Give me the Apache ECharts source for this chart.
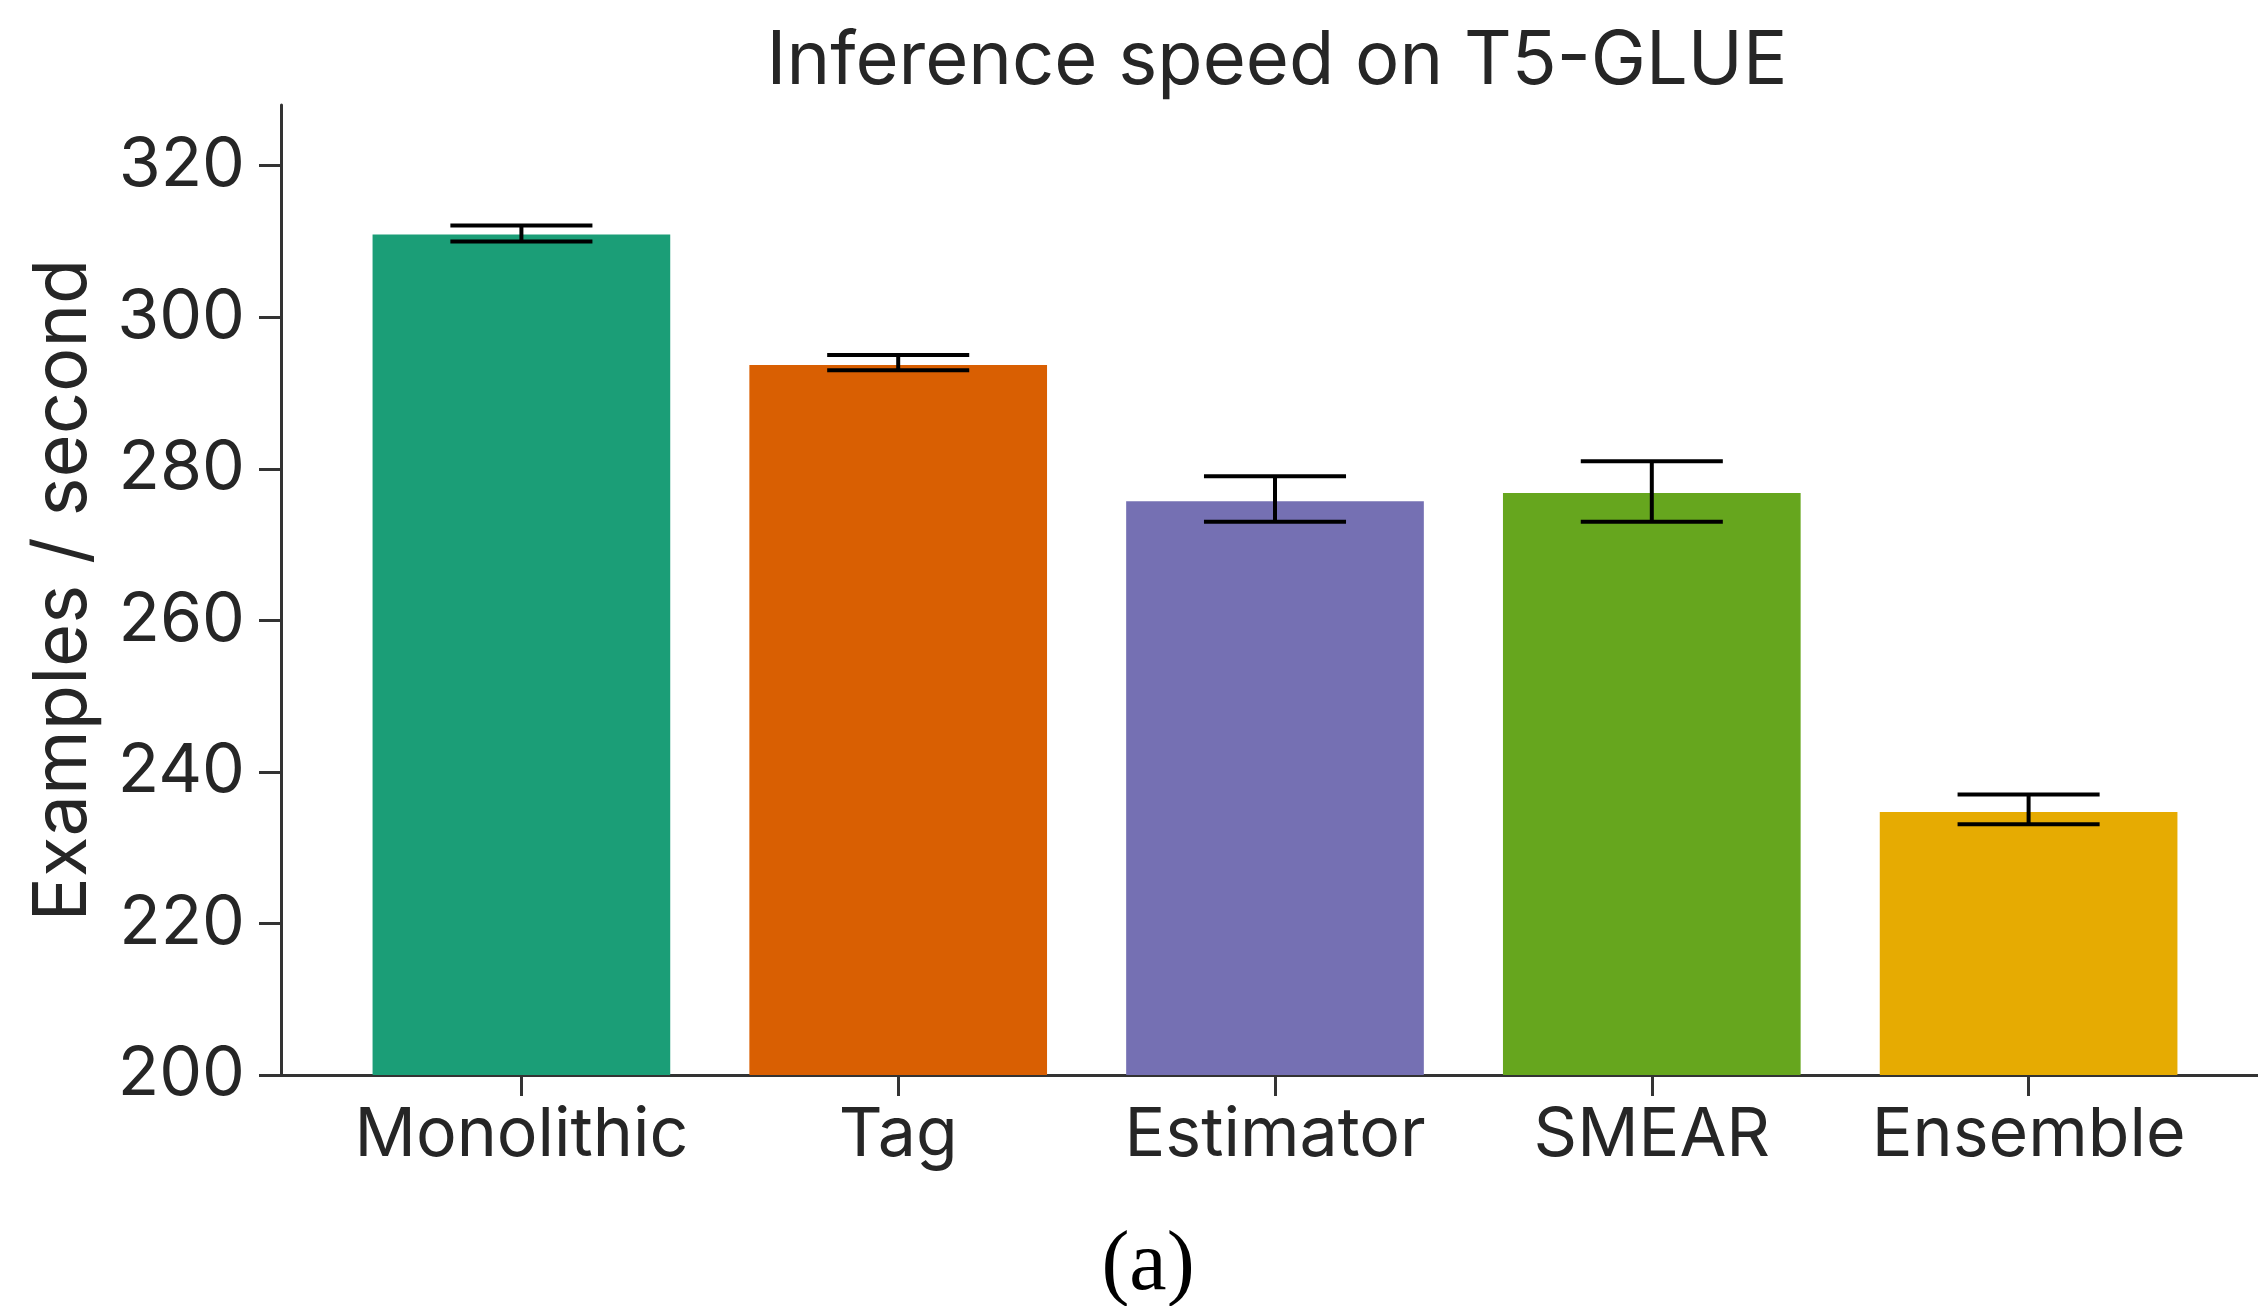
<!DOCTYPE html>
<html>
<head>
<meta charset="utf-8">
<script src="https://cdn.jsdelivr.net/npm/echarts@6/dist/echarts.min.js"></script>
<style>
  html, body { margin: 0; padding: 0; background: #ffffff; }
  #chart { width: 2258px; height: 1306px; }
</style>
</head>
<body>
<div id="chart"></div>
<script>
// ---- data ----
const categories = ['Monolithic', 'Tag', 'Estimator', 'SMEAR', 'Ensemble'];
const means = [310.9, 293.7, 275.7, 276.8, 234.7];
const ciLow = [310.0, 293.0, 273.0, 273.0, 233.1];
const ciHigh = [312.1, 295.0, 279.0, 281.0, 237.0];
const barColors = ['#1b9e77', '#d95f02', '#7570b3', '#66a61e', '#e6ab02'];
const yTicks = [200, 220, 240, 260, 280, 300, 320];
const yMin = 200, yMax = 328;

const textColor = '#262626';
const axisColor = '#333333';
const fontFamily = 'Inter, "Noto Sans", sans-serif';

const chart = echarts.init(document.getElementById('chart'), null, { renderer: 'canvas' });

const barData = means.map((v, i) => ({ value: v, itemStyle: { color: barColors[i] } }));
const errData = categories.map((c, i) => [i, ciLow[i], ciHigh[i]]);

chart.setOption({
  backgroundColor: '#ffffff',
  animation: false,
  title: [
    {
      text: 'Inference speed on T5-GLUE',
      left: 1272,
      textAlign: 'center',
      top: 20,
      textStyle: { fontFamily, fontSize: 74, fontWeight: 'normal', color: textColor }
    },
    {
      text: '(a)',
      left: 1143,
      textAlign: 'center',
      top: 1220,
      textStyle: { fontFamily: '"Liberation Serif", "Times New Roman", serif', fontSize: 84, fontWeight: 'normal', color: '#000000' }
    }
  ],
  grid: [
    { left: 333, right: 41, top: 105, bottom: 231, containLabel: false },
    { left: 281, right: 0, top: 105, bottom: 231, containLabel: false }
  ],
  xAxis: [
    {
      type: 'category',
      gridIndex: 0,
      data: categories,
      boundaryGap: true,
      axisLine: { show: false },
      axisTick: { show: true, alignWithLabel: true, length: 21, lineStyle: { color: axisColor, width: 3 } },
      axisLabel: { color: textColor, fontFamily, fontSize: 68, margin: 27, interval: 0 },
      splitLine: { show: false }
    },
    {
      type: 'value',
      gridIndex: 1,
      min: 0,
      max: 1,
      axisLine: { show: true, lineStyle: { color: axisColor, width: 3 } },
      axisTick: { show: false },
      axisLabel: { show: false },
      splitLine: { show: false }
    }
  ],
  yAxis: [
    {
      type: 'value',
      gridIndex: 0,
      min: yMin,
      max: yMax,
      show: false,
      splitLine: { show: false }
    },
    {
      type: 'value',
      gridIndex: 1,
      min: yMin,
      max: yMax,
      name: 'Examples / second',
      nameLocation: 'middle',
      nameGap: 180,
      nameTextStyle: { color: textColor, fontFamily, fontSize: 74 },
      axisLine: { show: true, lineStyle: { color: axisColor, width: 3 } },
      axisTick: { show: true, length: 22, lineStyle: { color: axisColor, width: 3 }, customValues: yTicks },
      axisLabel: { color: textColor, fontFamily, fontSize: 68, margin: 36, customValues: yTicks },
      splitLine: { show: false }
    }
  ],
  series: [
    {
      type: 'bar',
      xAxisIndex: 0,
      yAxisIndex: 0,
      data: barData,
      barWidth: '79%',
      z: 2
    },
    {
      type: 'custom',
      xAxisIndex: 0,
      yAxisIndex: 0,
      data: errData,
      z: 3,
      renderItem: function (params, api) {
        const x = api.value(0);
        const lo = api.coord([x, api.value(1)]);
        const hi = api.coord([x, api.value(2)]);
        const half = api.size([1, 0])[0] * 0.377 / 2;
        const style = { stroke: '#000000', lineWidth: 4 };
        return {
          type: 'group',
          children: [
            { type: 'line', shape: { x1: lo[0], y1: lo[1], x2: hi[0], y2: hi[1] }, style },
            { type: 'line', shape: { x1: lo[0] - half, y1: lo[1], x2: lo[0] + half, y2: lo[1] }, style },
            { type: 'line', shape: { x1: hi[0] - half, y1: hi[1], x2: hi[0] + half, y2: hi[1] }, style }
          ]
        };
      }
    }
  ]
});
</script>
</body>
</html>
